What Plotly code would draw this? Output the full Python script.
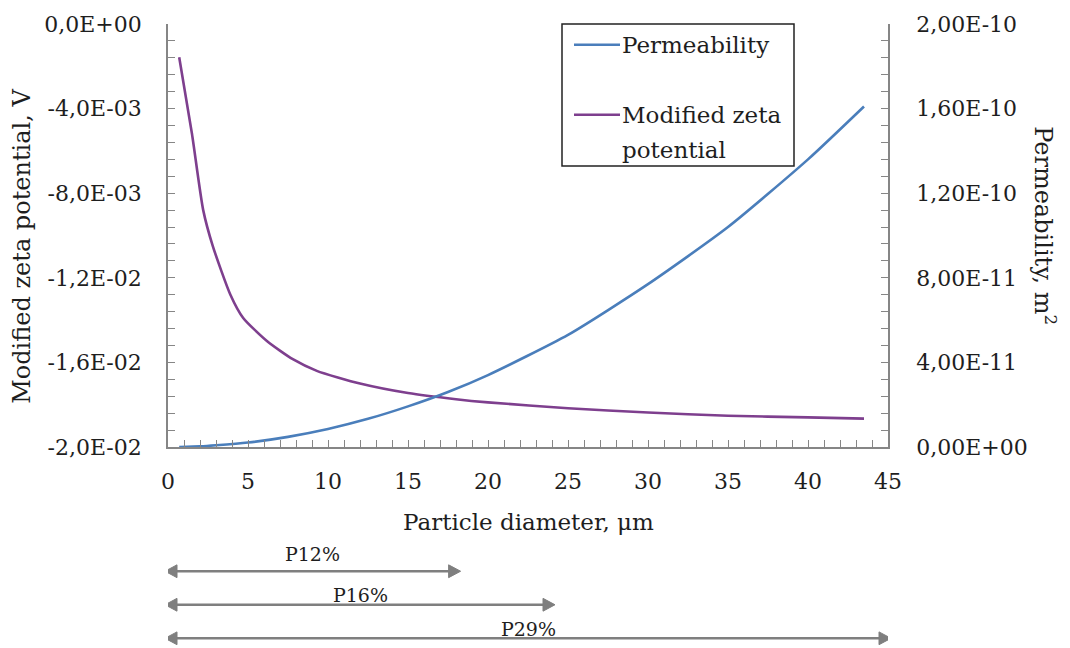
import plotly.graph_objects as go

# ---- data ----
perm_d = [0.7, 2, 3, 5, 7.5, 10, 12.5, 15, 17.5, 20, 25, 30, 35, 40, 43.5]
perm_val = [0.0, 0.3e-12, 0.8e-12, 2.1e-12, 4.8e-12, 8.5e-12, 1.33e-11, 1.92e-11,
            2.6e-11, 3.4e-11, 5.3e-11, 7.7e-11, 1.04e-10, 1.36e-10, 1.61e-10]

zeta_d = [0.7, 1.5, 2.2, 2.8, 3.9, 4.7, 6.2, 7.8, 9.3, 12, 15, 18, 20, 25, 30, 35, 40, 43.5]
zeta_val = [-0.00157, -0.0052, -0.0088, -0.0105, -0.0128, -0.0139, -0.0150, -0.01585,
            -0.0164, -0.0170, -0.01745, -0.01774, -0.01789, -0.01817, -0.01837, -0.01852,
            -0.0186, -0.01866]

left_tickvals = [-0.02, -0.016, -0.012, -0.008, -0.004, 0.0]
left_ticktext = ["-2,0E-02", "-1,6E-02", "-1,2E-02", "-8,0E-03", "-4,0E-03", "0,0E+00"]
right_tickvals = [0, 4e-11, 8e-11, 1.2e-10, 1.6e-10, 2e-10]
right_ticktext = ["0,00E+00", "4,00E-11", "8,00E-11", "1,20E-10", "1,60E-10", "2,00E-10"]

arrow_labels = ["P12%", "P16%", "P29%"]
arrow_starts = [0.0, 0.0, 0.0]
arrow_ends = [18.1, 24.0, 45.0]

perm_name = "Permeability"
zeta_name = "Modified zeta potential"

BLUE = "#4A7EBB"
PURPLE = "#7E3F8E"
AXC = "#868686"
ARC = "#7f7f7f"
TXT = "#1e1e1e"
FONT = "DejaVu Serif"

fig = go.Figure()
fig.add_trace(go.Scatter(x=zeta_d, y=zeta_val, name=zeta_name, mode="lines",
                         line=dict(color=PURPLE, width=2.6, shape="spline", smoothing=0.6),
                         yaxis="y"))
fig.add_trace(go.Scatter(x=perm_d, y=perm_val, name=perm_name, mode="lines",
                         line=dict(color=BLUE, width=2.6, shape="spline", smoothing=0.6),
                         yaxis="y2"))

W, H = 1070, 648
L, R, T, B = 168, 182, 18, 201
pw, ph = W - L - R, H - T - B


def px(xp):
    return (xp - L) / pw


def py(yp):
    return (H - B - yp) / ph


tickfont = dict(family=FONT, size=22, color=TXT)

fig.update_layout(
    width=W, height=H,
    margin=dict(l=L, r=R, t=T, b=B, pad=0),
    paper_bgcolor="white", plot_bgcolor="white",
    showlegend=False,
    font=dict(family=FONT, color=TXT),
    xaxis=dict(range=[0, 45], tickvals=[0, 5, 10, 15, 20, 25, 30, 35, 40, 45],
               ticks="inside", ticklen=7, tickcolor=AXC, tickwidth=1.3,
               minor=dict(dtick=1, ticks="inside", ticklen=7, tickcolor=AXC, tickwidth=1.3),
               showline=True, linecolor=AXC, linewidth=1.6, showgrid=False, zeroline=False,
               tickfont=tickfont, ticklabelstandoff=14),
    yaxis=dict(range=[-0.02, 0], tickvals=left_tickvals, ticktext=left_ticktext,
               ticks="inside", ticklen=7, tickcolor=AXC, tickwidth=1.3,
               minor=dict(dtick=0.0008, tick0=0, ticks="inside", ticklen=7, tickcolor=AXC, tickwidth=1.3),
               showline=True, linecolor=AXC, linewidth=1.6, showgrid=False, zeroline=False,
               tickfont=tickfont, ticklabelstandoff=20),
    yaxis2=dict(range=[0, 2e-10], tickvals=right_tickvals, ticktext=right_ticktext,
                overlaying="y", side="right",
                ticks="inside", ticklen=7, tickcolor=AXC, tickwidth=1.3,
                minor=dict(dtick=8e-12, tick0=0, ticks="inside", ticklen=7, tickcolor=AXC, tickwidth=1.3),
                showline=True, linecolor=AXC, linewidth=1.6, showgrid=False, zeroline=False,
                tickfont=tickfont, ticklabelstandoff=22),
)

annotations = []
shapes = []

# axis titles
annotations.append(dict(text="Particle diameter, μm", xref="paper", yref="paper",
                        x=0.5, y=py(523), xanchor="center", yanchor="middle",
                        showarrow=False, font=dict(family=FONT, size=23, color=TXT)))
annotations.append(dict(text="Modified zeta potential, V", xref="paper", yref="paper",
                        x=px(22), y=py(244), xanchor="center", yanchor="middle",
                        textangle=-90, showarrow=False, font=dict(family=FONT, size=24, color=TXT)))
annotations.append(dict(text="Permeability, m<sup>2</sup>", xref="paper", yref="paper",
                        x=px(1045), y=py(222), xanchor="center", yanchor="middle",
                        textangle=90, showarrow=False, font=dict(family=FONT, size=24, color=TXT)))

# custom legend
shapes.append(dict(type="rect", xref="paper", yref="paper",
                   x0=px(562), x1=px(794), y0=py(162), y1=py(18),
                   line=dict(color="#222222", width=1.5), fillcolor="white", layer="above"))
for name, color, ypos in [(perm_name, BLUE, 39), (zeta_name, PURPLE, 110)]:
    shapes.append(dict(type="line", xref="paper", yref="paper",
                       x0=px(574), x1=px(620), y0=py(ypos), y1=py(ypos),
                       line=dict(color=color, width=2.6), layer="above"))
legend_font = dict(family=FONT, size=23, color=TXT)
annotations.append(dict(text=perm_name, xref="paper", yref="paper", x=px(620), y=py(39),
                        xanchor="left", yanchor="middle", showarrow=False, font=legend_font))
zeta_parts = zeta_name.rsplit(" ", 1)
annotations.append(dict(text=zeta_parts[0], xref="paper", yref="paper", x=px(620), y=py(110),
                        xanchor="left", yanchor="middle", showarrow=False, font=legend_font))
annotations.append(dict(text=zeta_parts[1], xref="paper", yref="paper", x=px(620), y=py(146),
                        xanchor="left", yanchor="middle", showarrow=False, font=legend_font))

# range arrows below the axis (double headed)
arrow_y = [573, 607, 641]
label_y = [556, 597, 632]
head_len = 12 / pw * 45      # x-units
head_half = 6.5 / ph          # paper units
tip_pad = 3 / pw * 45
for lab, st, end, ay_px, ly_px in zip(arrow_labels, arrow_starts, arrow_ends, arrow_y, label_y):
    yv = py(ay_px)
    x_left = st - tip_pad
    x_right = end + tip_pad
    shapes.append(dict(type="line", xref="x", yref="paper",
                       x0=x_left + head_len * 0.5, x1=x_right - head_len * 0.5, y0=yv, y1=yv,
                       line=dict(color=ARC, width=2.4)))
    shapes.append(dict(type="path", xref="x", yref="paper",
                       path=f"M {x_left},{yv} L {x_left + head_len},{yv + head_half} "
                            f"L {x_left + head_len},{yv - head_half} Z",
                       fillcolor=ARC, line=dict(color=ARC, width=1)))
    shapes.append(dict(type="path", xref="x", yref="paper",
                       path=f"M {x_right},{yv} L {x_right - head_len},{yv + head_half} "
                            f"L {x_right - head_len},{yv - head_half} Z",
                       fillcolor=ARC, line=dict(color=ARC, width=1)))
    annotations.append(dict(x=(st + end) / 2, y=py(ly_px), xref="x", yref="paper",
                            text=lab, showarrow=False, xanchor="center", yanchor="middle",
                            font=dict(family=FONT, size=19, color=TXT)))

fig.update_layout(annotations=annotations, shapes=shapes)

fig.write_html("out.html")
